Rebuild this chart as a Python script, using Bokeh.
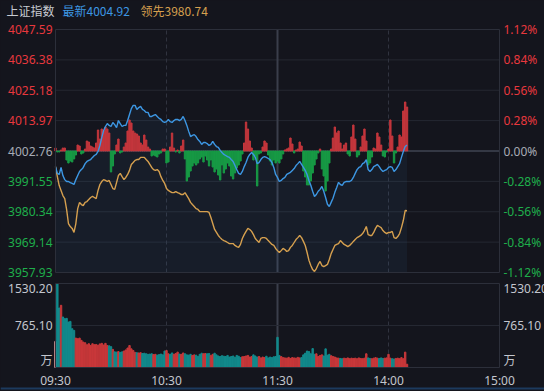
from bokeh.plotting import figure
from bokeh.models import Range1d, GlobalInlineStyleSheet
from bokeh.layouts import column
from bokeh.core.properties import value
from bokeh.embed import file_html
from bokeh.resources import INLINE

# ---------------- data ----------------
index_name = "上证指数"
pre_close = 4002.76
price_ticks = [4047.59, 4036.38, 4025.18, 4013.97, 4002.76, 3991.55, 3980.34, 3969.14, 3957.93]
pct_labels = ["1.12%", "0.84%", "0.56%", "0.28%", "0.00%", "-0.28%", "-0.56%", "-0.84%", "-1.12%"]
vol_ticks = [1530.20, 765.10, 0.0]
vol_labels = ["1530.20", "765.10", "万"]
time_ticks = [0, 60, 120, 180, 240]
time_labels = ["09:30", "10:30", "11:30", "14:00", "15:00"]

latest = [
    3997.0, 3994.5, 3994.1, 3996.7, 3993.7, 3992.2, 3991.5, 3991.5, 3991.1, 3990.8,
    3990.4, 3992.2, 3993.7, 3995.2, 3995.9, 3996.7, 3998.1, 3998.9, 3999.3, 3999.6,
    4000.4, 4001.1, 4001.5, 4002.6, 4004.8, 4007.7, 4010.3, 4011.8, 4012.9, 4012.2,
    4011.8, 4013.3, 4012.5, 4011.4, 4014.0, 4012.9, 4011.8, 4012.2, 4012.2, 4014.0,
    4016.2, 4018.4, 4019.6, 4019.6, 4018.1, 4018.8, 4019.2, 4018.1, 4017.7, 4017.0,
    4017.0, 4015.5, 4015.5, 4015.9, 4016.2, 4015.5, 4014.8, 4014.4, 4013.6, 4013.3,
    4013.6, 4014.4, 4013.6, 4013.3, 4014.0, 4014.4, 4014.4, 4014.0, 4014.4, 4015.5,
    4014.0, 4012.2, 4010.0, 4008.1, 4008.5, 4008.8, 4008.1, 4007.0, 4006.3, 4005.2,
    4005.9, 4005.9, 4005.5, 4004.8, 4005.2, 4006.3, 4005.2, 4004.4, 4004.1, 4003.0,
    4002.2, 4001.5, 4001.1, 4000.7, 4000.4, 3999.6, 3998.9, 3997.4, 3995.9, 3994.5,
    3994.1, 3995.2, 3997.0, 3998.5, 4000.4, 4001.5, 4002.2, 4001.5, 4000.4, 3998.1,
    3998.5, 3999.6, 4000.4, 4000.7, 4000.4, 4000.0, 3999.6, 3998.5, 3996.7, 3994.1,
    3993.0, 3991.5, 3991.9, 3992.6, 3993.0, 3994.1, 3994.5, 3994.9, 3995.6, 3996.3,
    3997.4, 3998.1, 3998.9, 3997.8, 3996.7, 3995.6, 3994.1, 3991.9, 3990.1, 3987.9,
    3986.0, 3986.7, 3987.9, 3988.6, 3989.7, 3987.9, 3985.6, 3983.1, 3982.3, 3983.8,
    3985.3, 3987.5, 3989.3, 3991.2, 3990.4, 3990.1, 3991.2, 3991.5, 3991.5, 3991.5,
    3991.9, 3993.0, 3994.5, 3995.9, 3996.7, 3997.0, 3998.1, 3998.5, 3999.6, 3995.9,
    3995.2, 3995.9, 3997.0, 3997.4, 3997.8, 3997.0, 3995.9, 3995.2, 3995.6, 3995.9,
    3996.7, 3997.0, 3996.7, 3995.2, 3995.9, 3997.0, 3998.1, 4000.4, 4002.6, 4004.4,
    4004.92,
]

leading = [
    3997.0, 3993.3, 3990.0, 3988.2, 3986.3, 3985.2, 3981.2, 3976.0, 3974.9, 3974.2,
    3972.7, 3976.0, 3981.5, 3983.8, 3983.0, 3982.6, 3983.8, 3984.1, 3984.9, 3985.6,
    3986.0, 3985.6, 3985.2, 3988.2, 3990.4, 3991.5, 3992.2, 3991.9, 3991.5, 3991.9,
    3990.4, 3988.9, 3988.6, 3991.1, 3993.7, 3994.5, 3993.3, 3992.2, 3993.0, 3994.1,
    3995.6, 3997.8, 3998.5, 3999.3, 3999.6, 3999.6, 4000.4, 4000.4, 4000.4, 3999.6,
    3998.9, 3997.8, 3996.7, 3995.9, 3995.6, 3995.9, 3995.2, 3993.3, 3991.9, 3990.8,
    3988.9, 3988.2, 3987.8, 3987.4, 3987.4, 3987.8, 3987.4, 3987.1, 3986.7, 3986.7,
    3987.4, 3986.3, 3985.2, 3983.8, 3983.0, 3982.3, 3981.5, 3981.2, 3980.4, 3980.4,
    3980.4, 3980.4, 3980.4, 3980.1, 3978.2, 3976.0, 3973.8, 3972.7, 3971.6, 3970.8,
    3970.1, 3969.7, 3969.4, 3969.0, 3968.6, 3968.6, 3968.6, 3967.9, 3967.5, 3967.2,
    3968.3, 3970.5, 3971.9, 3973.1, 3974.2, 3973.8, 3973.1, 3971.9, 3970.5, 3969.7,
    3969.0, 3970.5, 3970.8, 3970.8, 3970.5, 3969.7, 3969.0, 3968.3, 3967.9, 3966.8,
    3966.0, 3965.3, 3966.0, 3966.8, 3966.4, 3965.7, 3966.0, 3967.2, 3967.9, 3969.0,
    3970.1, 3970.8, 3971.6, 3970.8, 3969.4, 3967.9, 3965.3, 3962.4, 3960.5, 3959.0,
    3958.3, 3959.4, 3960.9, 3962.0, 3960.5, 3960.1, 3960.5, 3960.9, 3962.7, 3964.9,
    3966.4, 3967.9, 3968.3, 3968.6, 3969.7, 3969.0, 3968.3, 3967.9, 3967.5, 3967.9,
    3968.6, 3969.4, 3970.1, 3970.8, 3971.2, 3971.6, 3972.3, 3973.4, 3974.9, 3971.9,
    3971.6, 3971.6, 3972.7, 3974.2, 3975.3, 3974.9, 3974.5, 3973.4, 3972.7, 3972.3,
    3972.7, 3972.7, 3973.1, 3970.8, 3970.5, 3971.2, 3972.3, 3974.5, 3977.1, 3980.8,
    3980.74,
]

strength = [
    3, -1, -1, 1, 3, 3, -9, -12, -10, -11,
    -8, -4, 6, 5, -3, -2, 2, 10, 9, 5,
    4, 3, 8, 21, 12, 22, 20, 24, 22, 18,
    -21, -15, -3, 6, 12, -2, -1, 4, 8, 20,
    31, 28, 20, 18, 17, 15, 8, 6, 16, 11,
    4, 2, -5, -4, -5, -6, -3, -2, 2, 2,
    -12, -11, 4, 18, 3, -1, 1, -2, 5, 11,
    -8, -30, -26, -20, -15, -12, -14, -12, -8, -6,
    -11, -5, -9, -15, -9, -16, -21, -18, -24, -29,
    -14, -22, -18, -12, -15, -25, -28, -22, -17, -14,
    -10, -3, 8, 29, 22, 10, 3, -9, -5, -35,
    -3, -2, 4, 10, 8, -4, -10, -14, -9, -12,
    -10, -12, -8, -3, 1, 2, 3, 13, 7, -2,
    1, 2, 9, 5, -20, -26, -34, -34, -30, -22,
    -14, -8, -2, 2, -18, -25, -40, -30, -12, 2,
    13, 24, 18, 20, 8, 2, 6, 8, -3, -5,
    14, 26, 12, -6, -4, 4, 15, 22, 10, -14,
    -12, -6, 3, 2, 18, 14, 6, -5, -6, -1,
    2, 31, 15, -12, -2, 4, 16, 14, 40, 49,
    44,
]

volume = [
    475, 1530, 1084, 1133, 920, 890, 895, 828, 840, 707,
    676, 536, 524, 535, 494, 463, 451, 414, 433, 402,
    433, 415, 420, 405, 430, 440, 410, 440, 400, 395,
    380, 330, 285, 280, 290, 275, 285, 300, 320, 355,
    400, 340, 310, 275, 270, 265, 270, 255, 260, 250,
    240, 245, 250, 235, 240, 225, 235, 245, 230, 300,
    310, 250, 240, 265, 240, 255, 280, 245, 240, 265,
    250, 230, 225, 240, 220, 230, 225, 200, 240, 260,
    250, 255, 250, 255, 220, 240, 260, 230, 210, 200,
    215, 205, 200, 220, 190, 200, 210, 185, 220, 205,
    180, 195, 200, 210, 220, 190, 200, 230, 210, 190,
    200, 175, 190, 180, 205, 175, 190, 180, 195, 200,
    550, 220, 200, 180, 175, 170, 185, 165, 180, 175,
    170, 185, 175, 180, 230, 260, 300, 290, 250, 345,
    240, 250, 200, 220, 230, 210, 340, 225, 240, 215,
    200, 190, 175, 170, 165, 160, 170, 165, 175, 160,
    170, 165, 170, 160, 175, 165, 160, 170, 250, 175,
    165, 160, 170, 180, 170, 165, 175, 165, 170, 175,
    240, 170, 160, 155, 165, 170, 160, 180, 160, 280,
    60,
]

# ---------------- styles / layout (pixels) ----------------
BG = "#14151d"
GRID = "#252832"
FRAME = "#2c2f3a"
BLUE = "#3d97e3"
ORANGE = "#d6a04f"
UP = "#e8383d"
DOWN = "#1fae4b"
FLAT = "#a8acb6"
TXT = "#c3c6ce"
FONT = "Noto Sans"
CJK = "Noto Sans CJK SC"

W, H = 544, 391
PX_L, PX_R = 55, 499          # panel left / right edges
PX_PT, PX_PB = 29, 272        # price panel top / bottom
PX_VT, PX_VB = 283, 367       # volume panel top / bottom

kx = (PX_R - PX_L) / (time_ticks[-1] - time_ticks[0])
ky = (PX_PB - PX_PT) / (price_ticks[0] - price_ticks[-1])
kv = (PX_VB - PX_VT) / vol_ticks[0]

x_range = Range1d(time_ticks[0] - PX_L / kx, time_ticks[-1] + (W - PX_R) / kx)
y_range = Range1d(price_ticks[-1] - (H - PX_PB) / ky, price_ticks[0] + PX_PT / ky)
pc_px = PX_PT + (price_ticks[0] - pre_close) * ky

def xm(px):
    return time_ticks[0] + (px - PX_L) / kx

def yp(px):
    return price_ticks[0] - (px - PX_PT) / ky

def yv(px):
    return -(px - PX_VB) / kv

minutes = list(range(len(latest)))

p = figure(width=W, height=H, x_range=x_range, y_range=y_range,
           x_axis_location=None, y_axis_location=None,
           toolbar_location=None, output_backend="svg",
           background_fill_color=BG, border_fill_color=BG, outline_line_color=None,
           min_border=0)
p.grid.visible = False
p.extra_y_ranges = {
    "vol": Range1d(-(H - PX_VB) / kv, vol_ticks[0] + PX_VT / kv),
    "pw": Range1d(-(H - pc_px), pc_px),
}

# price panel grid
inner = price_ticks[1:-1]
p.segment(x0=[time_ticks[0]] * len(inner), x1=[time_ticks[-1]] * len(inner), y0=inner, y1=inner,
          line_color=[("#343844" if abs(t - pre_close) < 1e-6 else GRID) for t in inner],
          line_width=[(2 if abs(t - pre_close) < 1e-6 else 1) for t in inner])
# vertical session lines (price + volume panel)
for t, dash in zip(time_ticks[1:4], ["4 3", "solid", "4 3"]):
    col = "#3a3e4b" if dash == "solid" else "#30333f"
    lw = 2 if dash == "solid" else 1
    p.segment(x0=[t], x1=[t], y0=[price_ticks[-1]], y1=[price_ticks[0]],
              line_color=col, line_width=lw, line_dash=dash)
    p.segment(x0=[t], x1=[t], y0=[0], y1=[vol_ticks[0]], line_color=col, line_width=lw,
              line_dash=dash, y_range_name="vol")

p.varea(x=minutes, y1=latest, y2=price_ticks[-1], fill_color="#3a7cc4", fill_alpha=0.08)

bar_cols = ["#c4363c" if s >= 0 else "#179a45" for s in strength]
p.vbar(x=minutes, top=strength, bottom=0, width=0.75, color=bar_cols, y_range_name="pw")

p.line(minutes, leading, line_color=ORANGE, line_width=1.4)
p.line(minutes, latest, line_color=BLUE, line_width=1.4)

p.quad(left=[time_ticks[0]], right=[time_ticks[-1]], top=[price_ticks[0]], bottom=[price_ticks[-1]],
       fill_color=None, line_color=FRAME, line_width=1)

# price / percent labels
cols = []
for t in price_ticks:
    cols.append(UP if t > pre_close + 1e-6 else (DOWN if t < pre_close - 1e-6 else FLAT))
p.text(x=[xm(PX_L - 3)] * len(price_ticks), y=price_ticks, text=[f"{t:.2f}" for t in price_ticks],
       text_align="right", text_baseline="middle", text_color=cols,
       text_font=value(FONT), text_font_size=value("12px"))
p.text(x=[xm(PX_R + 4)] * len(price_ticks), y=price_ticks, text=pct_labels,
       text_align="left", text_baseline="middle", text_color=cols,
       text_font=value(FONT), text_font_size=value("12px"))

# header
hy = yp(10)
p.text(x=[xm(6)], y=[hy], text=[index_name], text_baseline="middle", text_color="#c8cbd2",
       text_font=value(CJK), text_font_size=value("12px"))
p.text(x=[xm(62)], y=[hy], text=[f"最新{latest[-1]:.2f}"], text_baseline="middle", text_color=BLUE,
       text_font=value(CJK), text_font_size=value("12px"))
p.text(x=[xm(140)], y=[hy], text=[f"领先{leading[-1]:.2f}"], text_baseline="middle", text_color=ORANGE,
       text_font=value(CJK), text_font_size=value("12px"))

# ---------------- volume panel ----------------
p.segment(x0=[time_ticks[0]], x1=[time_ticks[-1]], y0=[vol_ticks[1]], y1=[vol_ticks[1]],
          line_color=GRID, line_width=1, y_range_name="vol")

vol_cols = ["#e9a3a3"]
for i in range(1, len(volume)):
    d = latest[i] - latest[i - 1]
    if d > 0:
        vol_cols.append("#c8383a")
    elif d < 0:
        vol_cols.append("#128a8c")
    else:
        vol_cols.append(vol_cols[-1])
p.vbar(x=minutes, top=volume, bottom=0, width=0.75, color=vol_cols, y_range_name="vol")

p.quad(left=[time_ticks[0]], right=[time_ticks[-1]], top=[vol_ticks[0]], bottom=[0],
       fill_color=None, line_color=FRAME, line_width=1, y_range_name="vol")

for side_x, align in [(xm(PX_L - 3), "right"), (xm(PX_R + 4), "left")]:
    for t, vl, base in zip(vol_ticks, vol_labels, ["top", "middle", "bottom"]):
        f = CJK if vl == "万" else FONT
        p.text(x=[side_x], y=[t], text=[vl], text_align=align, text_baseline=base,
               text_color=TXT, text_font=value(f), text_font_size=value("12px"),
               y_range_name="vol")

# time labels
p.text(x=time_ticks, y=[yv(380)] * len(time_ticks), text=time_labels, text_align="center",
       text_baseline="middle", text_color=TXT, text_font=value(FONT), text_font_size=value("12px"),
       y_range_name="vol")

# bottom accent line
p.segment(x0=[x_range.start], x1=[x_range.end], y0=[yv(388)], y1=[yv(388)],
          line_color="#1c3a5e", line_width=2, y_range_name="vol")

css = GlobalInlineStyleSheet(css="html, body {margin:0 !important; padding:0 !important; background:#14151d !important; overflow:hidden;}")
p.stylesheets = [css]

open("out.html", "w").write(file_html(p, INLINE))
